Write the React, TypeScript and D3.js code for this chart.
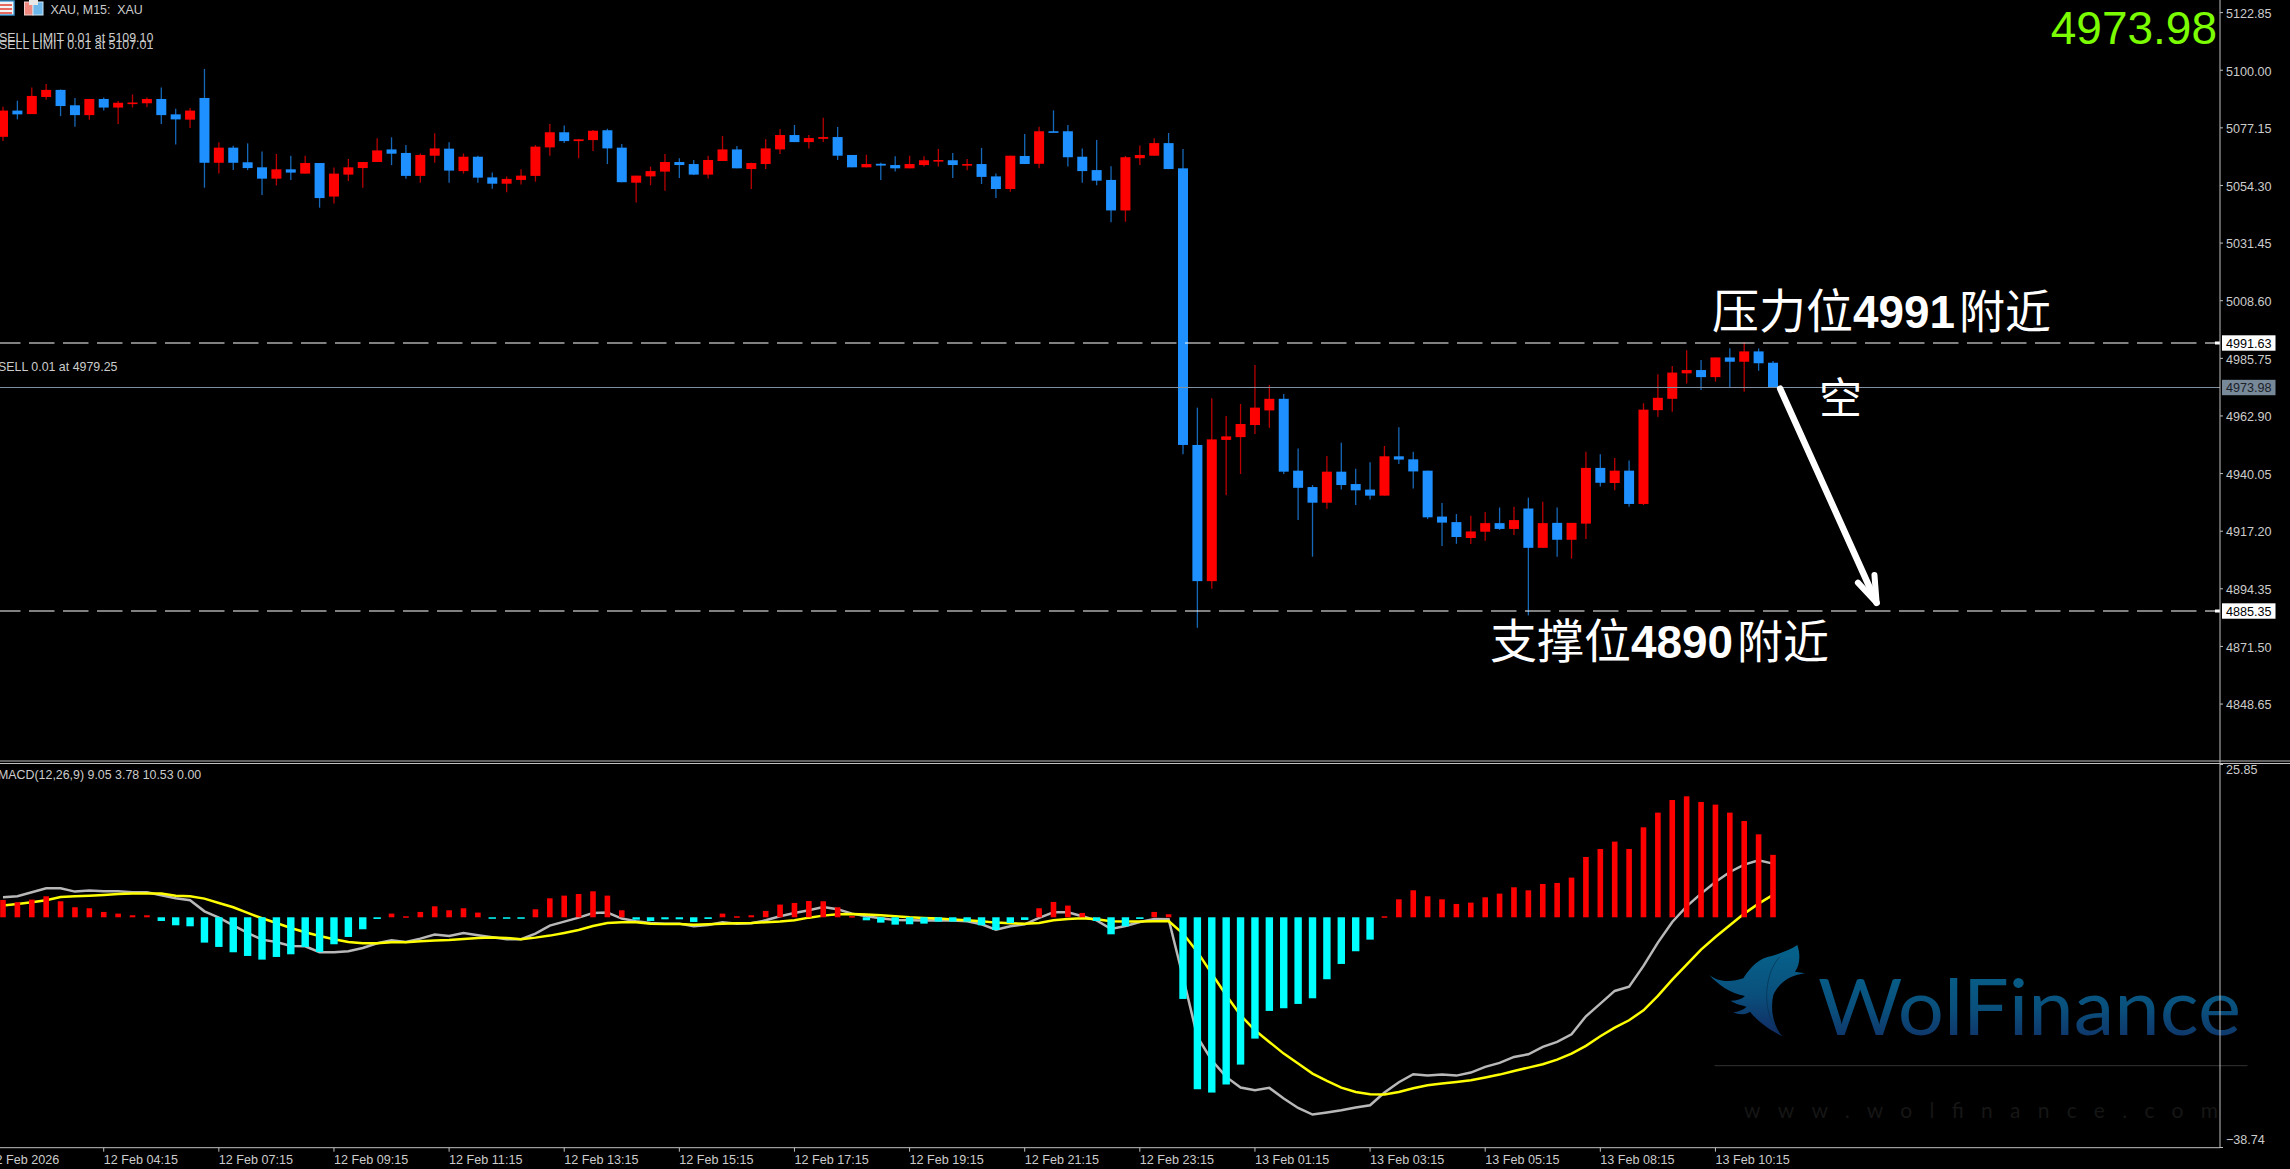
import { useEffect, useRef } from "react";
import * as d3 from "d3";

// XAU M15 candles
const highs = [
  5085.3, 5087.7, 5093.0, 5094.3, 5092.2, 5088.8, 5088.4, 5089.0, 5087.6, 5090.2,
  5089.0, 5093.0, 5084.5, 5084.8, 5100.3, 5071.2, 5069.9, 5070.8, 5067.6, 5066.6,
  5065.9, 5065.9, 5063.0, 5061.2, 5064.6, 5063.4, 5072.8, 5073.2, 5070.1, 5066.8,
  5074.8, 5071.2, 5066.8, 5065.9, 5059.2, 5057.7, 5060.5, 5070.1, 5078.5, 5077.9,
  5072.5, 5076.1, 5076.6, 5070.5, 5058.0, 5061.6, 5066.6, 5064.9, 5064.2, 5065.9,
  5073.7, 5069.8, 5063.1, 5072.4, 5076.4, 5078.1, 5074.1, 5081.0, 5077.3, 5066.2,
  5066.3, 5063.1, 5065.7, 5065.9, 5065.7, 5068.6, 5067.0, 5064.6, 5069.0, 5058.8,
  5065.9, 5074.5, 5077.4, 5083.9, 5078.1, 5068.8, 5072.1, 5061.7, 5065.8, 5070.0,
  5072.8, 5074.9, 5068.6, 4966.0, 4969.7, 4962.7, 4967.4, 4982.9, 4975.0, 4971.4,
  4949.8, 4935.3, 4946.8, 4952.1, 4941.8, 4944.3, 4950.8, 4958.2, 4948.5, 4941.0,
  4928.2, 4923.8, 4923.1, 4924.6, 4926.4, 4926.7, 4930.3, 4928.7, 4926.4, 4920.3,
  4948.5, 4947.5, 4946.0, 4945.0, 4967.7, 4979.2, 4982.5, 4988.8, 4984.9, 4985.9,
  4989.5, 4991.8, 4989.5, 4984.5,
];
const opens = [
  5073.4, 5083.8, 5082.4, 5089.2, 5092.0, 5085.9, 5082.0, 5088.4, 5085.0, 5086.7,
  5086.7, 5088.4, 5082.3, 5080.2, 5088.8, 5063.1, 5069.1, 5063.3, 5061.3, 5056.8,
  5060.5, 5058.8, 5063.0, 5049.7, 5058.4, 5061.0, 5063.4, 5068.4, 5067.0, 5057.9,
  5065.9, 5068.7, 5059.8, 5065.5, 5057.3, 5054.8, 5056.3, 5057.9, 5069.2, 5075.2,
  5071.7, 5072.1, 5076.0, 5069.1, 5055.2, 5057.7, 5059.6, 5063.4, 5062.6, 5058.4,
  5063.8, 5068.4, 5060.6, 5062.6, 5068.4, 5074.1, 5071.3, 5072.6, 5073.3, 5066.2,
  5061.3, 5062.7, 5062.2, 5060.9, 5062.2, 5063.8, 5064.1, 5062.0, 5062.6, 5057.7,
  5052.7, 5065.8, 5062.7, 5075.6, 5075.6, 5065.5, 5060.2, 5056.3, 5044.2, 5064.9,
  5065.9, 5070.9, 5060.9, 4951.2, 4897.2, 4953.2, 4954.3, 4959.1, 4964.9, 4969.5,
  4941.0, 4934.5, 4928.3, 4940.6, 4935.7, 4933.5, 4931.1, 4946.7, 4945.5, 4941.0,
  4922.8, 4920.6, 4914.3, 4916.8, 4920.2, 4917.9, 4926.0, 4910.4, 4920.3, 4913.6,
  4920.0, 4942.1, 4936.1, 4941.0, 4927.8, 4965.0, 4969.5, 4979.6, 4980.9, 4978.1,
  4985.9, 4984.2, 4988.3, 4983.8,
];
const closes = [
  5083.8, 5082.3, 5089.6, 5092.0, 5085.6, 5082.0, 5088.4, 5085.0, 5086.9, 5087.0,
  5088.4, 5082.0, 5080.3, 5083.8, 5063.1, 5069.1, 5063.1, 5061.0, 5056.8, 5060.5,
  5059.2, 5063.0, 5049.1, 5058.8, 5061.3, 5063.4, 5068.0, 5066.7, 5057.9, 5066.2,
  5068.8, 5060.0, 5065.5, 5057.2, 5054.8, 5056.7, 5058.0, 5069.5, 5075.2, 5071.7,
  5072.4, 5075.8, 5068.8, 5055.4, 5058.0, 5059.8, 5063.4, 5062.2, 5058.4, 5064.2,
  5068.4, 5060.9, 5063.0, 5068.8, 5074.1, 5071.3, 5072.9, 5073.3, 5065.9, 5061.3,
  5062.6, 5062.0, 5060.9, 5062.6, 5064.1, 5064.2, 5062.2, 5062.6, 5057.5, 5052.7,
  5065.9, 5062.6, 5075.6, 5075.2, 5065.3, 5059.8, 5056.0, 5044.2, 5065.3, 5066.2,
  5070.9, 5060.6, 4951.2, 4897.2, 4953.4, 4954.6, 4959.5, 4966.0, 4969.5, 4940.6,
  4934.2, 4928.3, 4940.6, 4935.3, 4933.2, 4931.1, 4946.7, 4945.4, 4940.7, 4922.5,
  4920.4, 4914.7, 4916.9, 4920.2, 4917.9, 4921.4, 4910.4, 4920.2, 4913.6, 4920.3,
  4942.1, 4936.2, 4941.0, 4927.8, 4965.2, 4969.9, 4979.9, 4980.9, 4978.1, 4985.9,
  4984.2, 4988.3, 4983.6, 4973.98,
];
const lows = [
  5071.7, 5080.3, 5082.4, 5088.1, 5081.6, 5077.4, 5080.2, 5083.8, 5078.5, 5085.0,
  5085.1, 5078.5, 5070.3, 5076.9, 5053.2, 5058.8, 5060.2, 5060.2, 5050.3, 5054.1,
  5056.3, 5058.8, 5045.3, 5047.0, 5055.9, 5053.2, 5063.4, 5062.2, 5056.8, 5055.2,
  5063.1, 5055.2, 5058.8, 5055.2, 5052.8, 5051.4, 5054.5, 5055.6, 5065.9, 5070.9,
  5064.9, 5067.8, 5062.6, 5055.4, 5047.3, 5054.2, 5052.0, 5057.1, 5058.3, 5056.9,
  5063.8, 5060.9, 5052.7, 5060.6, 5066.6, 5071.3, 5068.8, 5071.3, 5064.2, 5061.3,
  5061.3, 5056.3, 5059.6, 5060.9, 5061.6, 5061.6, 5057.1, 5060.1, 5054.7, 5049.1,
  5051.6, 5062.6, 5060.9, 5075.0, 5061.6, 5055.2, 5054.2, 5039.5, 5039.7, 5062.2,
  5065.9, 5060.6, 4947.5, 4878.7, 4894.2, 4931.3, 4939.7, 4955.5, 4958.0, 4939.7,
  4921.4, 4906.9, 4925.9, 4933.5, 4927.4, 4929.6, 4931.1, 4943.6, 4933.9, 4921.8,
  4911.1, 4912.0, 4911.9, 4913.2, 4917.5, 4915.5, 4883.6, 4910.4, 4906.9, 4906.1,
  4913.9, 4934.7, 4933.2, 4926.7, 4927.4, 4962.4, 4964.4, 4975.6, 4973.0, 4976.3,
  4974.0, 4972.3, 4980.6, 4974.0,
];

// MACD pane
const histogram = [
  2.92, 2.53, 2.98, 3.54, 2.7, 1.69, 1.52, 0.9, 0.62, 0.34,
  0.34, -0.62, -1.35, -1.52, -4.27, -5.0, -5.9, -6.52, -7.14, -6.69,
  -6.24, -5.0, -5.84, -4.55, -3.32, -2.02, -0.28, 0.62, 0.17, 0.9,
  1.85, 1.18, 1.52, 0.79, -0.11, -0.22, -0.11, 1.35, 3.2, 3.65,
  3.93, 4.38, 3.65, 1.18, -0.4, -0.62, -0.34, -0.34, -0.79, -0.28,
  0.62, 0.17, 0.34, 1.07, 2.14, 2.42, 2.75, 2.7, 1.69, 0.2,
  -0.51, -0.9, -1.24, -1.18, -1.07, -0.73, -0.73, -0.73, -1.35, -2.14,
  -0.96, -0.45, 1.52, 2.59, 1.97, 0.73, -0.62, -2.87, -1.52, -0.28,
  0.9, 0.51, -13.77, -29.0, -29.56, -28.2, -24.84, -20.46, -15.79, -15.34,
  -14.61, -13.66, -10.45, -7.87, -5.73, -3.77, 0.17, 3.03, 4.55, 3.54,
  3.03, 2.25, 2.47, 3.37, 3.99, 5.06, 4.55, 5.62, 5.79, 6.69,
  10.17, 11.52, 12.76, 11.52, 15.17, 17.65, 19.78, 20.4, 19.45, 19.0,
  17.65, 16.24, 13.99, 10.53,
];
const macdLine = [
  3.37, 3.54, 4.22, 4.89, 4.89, 4.33, 4.5, 4.38, 4.38, 4.22,
  4.22, 3.71, 3.2, 2.87, 1.01, -0.06, -1.35, -2.64, -3.77, -4.16,
  -4.83, -4.89, -5.9, -5.9, -5.73, -5.17, -4.38, -3.88, -4.16, -3.6,
  -2.92, -3.15, -2.64, -3.03, -3.37, -3.71, -3.71, -2.75, -1.4, -0.73,
  -0.06, 0.73, 0.79, -0.22, -0.67, -0.96, -1.07, -1.07, -1.52, -1.29,
  -0.84, -1.07, -1.01, -0.51, 0.17, 0.73, 1.18, 1.74, 1.35, 0.62,
  0.17, -0.17, -0.45, -0.51, -0.56, -0.51, -0.56, -0.67, -1.18, -2.08,
  -1.52, -1.18, -0.11, 0.84, 0.84, 0.17, -0.51, -1.97, -1.46, -0.79,
  -0.28, -0.34, -10.06, -20.18, -24.11, -26.92, -28.72, -29.17, -28.77, -30.57,
  -32.15, -33.27, -32.93, -32.54, -32.09, -31.7, -29.56, -27.82, -26.47, -26.7,
  -26.53, -26.7, -26.19, -25.23, -24.56, -23.55, -23.1, -21.86, -21.02, -19.73,
  -16.69, -14.56, -12.42, -11.69, -8.2, -4.27, -0.79, 1.85, 3.99, 5.96,
  7.64, 8.88, 9.61, 9.05,
];
const signalLine = [
  1.97, 2.25, 2.53, 2.87, 3.43, 3.54, 3.65, 3.77, 3.93, 3.99,
  3.99, 3.99, 3.65, 3.54, 3.15, 2.42, 1.69, 0.73, -0.17, -0.96,
  -1.8, -2.53, -3.15, -3.71, -4.16, -4.38, -4.38, -4.22, -4.22, -4.05,
  -3.93, -3.82, -3.65, -3.48, -3.43, -3.48, -3.71, -3.43, -3.09, -2.64,
  -2.14, -1.46, -0.96, -0.84, -0.84, -1.07, -1.12, -1.12, -1.24, -1.18,
  -1.07, -1.01, -0.96, -0.84, -0.73, -0.51, -0.06, 0.28, 0.51, 0.56,
  0.45, 0.34, 0.17, 0, -0.11, -0.22, -0.39, -0.51, -0.67, -0.9,
  -1.01, -1.07, -0.96, -0.51, -0.28, -0.17, -0.34, -0.67, -0.73, -0.73,
  -0.67, -0.62, -2.75, -5.84, -9.5, -13.15, -16.52, -19.05, -21.02, -22.99,
  -24.67, -26.36, -27.59, -28.72, -29.45, -29.84, -29.9, -29.45, -28.83, -28.32,
  -28.04, -27.76, -27.48, -27.03, -26.53, -25.91, -25.35, -24.78, -24.0, -22.99,
  -21.69, -20.06, -18.6, -17.37, -15.68, -13.26, -10.51, -7.98, -5.45, -3.32,
  -1.35, 0.62, 2.3, 3.78,
];

const priceTicks = [
  5122.85, 5100.0, 5077.15, 5054.3, 5031.45, 5008.6, 4985.75, 4962.9, 4940.05,
  4917.2, 4894.35, 4871.5, 4848.65,
];
const macdTicks = [25.85, -38.74];
const timeTicks = [
  "12 Feb 2026", "12 Feb 04:15", "12 Feb 07:15", "12 Feb 09:15", "12 Feb 11:15",
  "12 Feb 13:15", "12 Feb 15:15", "12 Feb 17:15", "12 Feb 19:15", "12 Feb 21:15",
  "12 Feb 23:15", "13 Feb 01:15", "13 Feb 03:15", "13 Feb 05:15", "13 Feb 08:15",
  "13 Feb 10:15",
];
const timeTickBars = [-1, 7, 15, 23, 31, 39, 47, 55, 63, 71, 79, 87, 95, 103, 111, 119];

const resistance = 4991.63;
const support = 4885.35;
const lastPrice = 4973.98;

const arrowShaft: [number, number][] = [[123.5, 4973.5], [130.2, 4888.6]];
const arrowHead: [number, number][] = [[128.9, 4896.6], [130.2, 4888.6], [130.05, 4899.6]];

const UI_FONT = "'Liberation Sans', Arial, sans-serif";
const CJK_FONT = "'Noto Sans CJK SC', sans-serif";
const AXIS_X = 2220;
const AXIS_COLOR = "#c0c0c0";
const TEXT_COLOR = "#cccccc";
const UP = "#ff0000";
const DOWN = "#1e90ff";

function drawChart(el: SVGSVGElement) {
  const svg = d3.select(el);
  svg.selectAll("*").remove();

  const x = d3.scaleLinear().domain([0, 123]).range([3, 1773]);
  const y = d3.scaleLinear().domain([4825.87, 5127.65]).range([761, 0]);
  const yMacd = d3.scaleLinear().domain([-38.74, 25.85]).range([1147, 764]);

  svg.append("rect").attr("width", 2290).attr("height", 1169).attr("fill", "#000");

  const defs = svg.append("defs");
  const grad = defs
    .append("linearGradient")
    .attr("id", "wf")
    .attr("x1", 0)
    .attr("y1", 0)
    .attr("x2", 0)
    .attr("y2", 1);
  grad.append("stop").attr("offset", "0%").attr("stop-color", "#05648c");
  grad.append("stop").attr("offset", "55%").attr("stop-color", "#0a4f7c");
  grad.append("stop").attr("offset", "100%").attr("stop-color", "#122a62");

  // watermark
  const mark = svg.append("g");
  const wing = mark.append("g").attr("transform", "translate(1700,930) scale(0.3333)");
  wing
    .append("path")
    .attr("fill", "url(#wf)")
    .attr(
      "d",
      "M28,135 C60,160 100,155 130,145 C150,112 180,82 215,78 C240,70 270,60 292,45 C302,75 300,105 285,125 L315,130 C270,135 235,160 220,195 C210,240 220,285 245,318 C200,295 170,270 150,245 C135,255 115,255 100,247 C115,245 130,240 140,230 C125,225 105,222 92,212 C110,212 125,208 135,198 C90,190 55,165 28,135 Z",
    );
  wing
    .append("path")
    .attr("fill", "none")
    .attr("stroke", "#06304f")
    .attr("stroke-width", 2)
    .attr("d", "M240,80 C215,105 200,150 200,200 C200,245 215,285 245,318");
  mark
    .append("text")
    .attr("x", 1818)
    .attr("y", 1035)
    .attr("textLength", 423)
    .attr("lengthAdjust", "spacingAndGlyphs")
    .attr("font-family", "Lato, sans-serif")
    .attr("font-size", 77)
    .attr("fill", "url(#wf)")
    .text("WolFinance");
  mark
    .append("line")
    .attr("x1", 1714.5)
    .attr("x2", 2247.5)
    .attr("y1", 1065.7)
    .attr("y2", 1065.7)
    .attr("stroke", "#333");
  mark
    .append("text")
    .attr("x", 1744)
    .attr("y", 1118)
    .attr("textLength", 474)
    .attr("font-family", "Lato, sans-serif")
    .attr("font-size", 21)
    .attr("fill", "#161616")
    .text("www.wolfinance.com");

  // candles
  const candles = d3.range(opens.length).map((i) => ({
    i,
    o: opens[i],
    h: highs[i],
    l: lows[i],
    c: closes[i],
  }));
  const color = (d: { o: number; c: number }) => (d.c >= d.o ? UP : DOWN);

  svg
    .append("g")
    .selectAll("line")
    .data(candles)
    .join("line")
    .attr("x1", (d) => x(d.i))
    .attr("x2", (d) => x(d.i))
    .attr("y1", (d) => y(d.h))
    .attr("y2", (d) => y(d.l))
    .attr("stroke", color)
    .attr("stroke-opacity", 0.72)
    .attr("stroke-width", 1.3);

  svg
    .append("g")
    .selectAll("rect")
    .data(candles)
    .join("rect")
    .attr("x", (d) => x(d.i) - 5)
    .attr("width", 10)
    .attr("y", (d) => y(Math.max(d.o, d.c)))
    .attr("height", (d) => Math.max(1.6, Math.abs(y(d.o) - y(d.c))))
    .attr("fill", color);

  // level lines
  [resistance, support].forEach((p) => {
    svg
      .append("line")
      .attr("x1", 0)
      .attr("x2", 2216)
      .attr("y1", y(p))
      .attr("y2", y(p))
      .attr("stroke", "#ffffff")
      .attr("stroke-width", 1.1)
      .attr("stroke-dasharray", "25.5 8.5")
      .attr("stroke-dashoffset", 5);
    svg
      .append("rect")
      .attr("x", 2215)
      .attr("y", y(p) - 1.5)
      .attr("width", 5)
      .attr("height", 3)
      .attr("fill", "#fff");
  });
  svg
    .append("line")
    .attr("x1", 0)
    .attr("x2", AXIS_X)
    .attr("y1", y(lastPrice))
    .attr("y2", y(lastPrice))
    .attr("stroke", "#8090a0")
    .attr("stroke-width", 1);

  // macd: lines sit under the bars
  const lineGen = d3
    .line<number>()
    .x((_, i) => x(i))
    .y((d) => yMacd(d));
  svg
    .append("path")
    .attr("d", lineGen(macdLine))
    .attr("fill", "none")
    .attr("stroke", "#b8b8b8")
    .attr("stroke-width", 2.5);
  svg
    .append("path")
    .attr("d", lineGen(signalLine))
    .attr("fill", "none")
    .attr("stroke", "#ffff00")
    .attr("stroke-width", 2.5);

  svg
    .append("g")
    .selectAll("rect")
    .data(histogram)
    .join("rect")
    .attr("x", (d, i) => x(i) - (d >= 0 ? 2.8 : 3.7))
    .attr("width", (d) => (d >= 0 ? 5.6 : 7.4))
    .attr("y", (d) => Math.min(yMacd(d), yMacd(0)))
    .attr("height", (d) => Math.max(1.5, Math.abs(yMacd(d) - yMacd(0))))
    .attr("fill", (d) => (d >= 0 ? "#ff0000" : "#00ffff"));

  // pane separator and axis frame
  [761, 763.5].forEach((py) => {
    svg
      .append("line")
      .attr("x1", 0)
      .attr("x2", 2290)
      .attr("y1", py)
      .attr("y2", py)
      .attr("stroke", AXIS_COLOR)
      .attr("stroke-width", 1);
  });
  svg
    .append("line")
    .attr("x1", AXIS_X)
    .attr("x2", AXIS_X)
    .attr("y1", 0)
    .attr("y2", 1148)
    .attr("stroke", AXIS_COLOR);

  const styleAxis = (g: d3.Selection<SVGGElement, unknown, null, undefined>) => {
    g.select(".domain").remove();
    g.selectAll(".tick line").attr("stroke", AXIS_COLOR);
    g.selectAll(".tick text")
      .attr("fill", TEXT_COLOR)
      .style("font-family", UI_FONT)
      .style("font-size", "12.6px");
  };

  svg
    .append("g")
    .attr("transform", `translate(${AXIS_X},0)`)
    .call(d3.axisRight(y).tickValues(priceTicks).tickFormat(d3.format(".2f")).tickSize(3).tickPadding(3))
    .call(styleAxis)
    .selectAll(".tick text")
    .attr("dy", "0.42em");

  svg
    .append("g")
    .attr("transform", `translate(${AXIS_X},0)`)
    .call(d3.axisRight(yMacd).tickValues(macdTicks).tickFormat(d3.format(".2f")).tickSize(3).tickPadding(3))
    .call(styleAxis)
    .selectAll<SVGTextElement, number>(".tick text")
    .attr("dy", (d) => (d > 0 ? "0.78em" : "-0.25em"));

  // time axis
  const xTime = d3.scaleOrdinal<string, number>().domain(timeTicks).range(timeTickBars.map((b) => x(b)));
  svg
    .append("line")
    .attr("x1", 0)
    .attr("x2", AXIS_X)
    .attr("y1", 1147.7)
    .attr("y2", 1147.7)
    .attr("stroke", AXIS_COLOR);
  const timeAxis = svg
    .append("g")
    .attr("transform", "translate(0,1147.7)")
    .call(
      d3
        .axisBottom(xTime as unknown as d3.AxisScale<string>)
        .tickSize(4)
        .tickPadding(3)
        .tickSizeOuter(0),
    )
    .call(styleAxis);
  timeAxis
    .selectAll<SVGGElement, string>(".tick")
    .attr("transform", (d) => `translate(${xTime(d)},0)`);
  timeAxis.selectAll(".tick text").attr("text-anchor", "start").attr("x", 0).attr("dx", 0);

  // value boxes
  const boxes = [
    { p: resistance, bg: "#ffffff", fg: "#000000" },
    { p: support, bg: "#ffffff", fg: "#000000" },
    { p: lastPrice, bg: "#778899", fg: "#1c2128" },
  ];
  boxes.forEach((b) => {
    svg
      .append("rect")
      .attr("x", 2222)
      .attr("y", y(b.p) - 7.7)
      .attr("width", 53.5)
      .attr("height", 15.4)
      .attr("fill", b.bg);
    svg
      .append("text")
      .attr("x", 2226)
      .attr("y", y(b.p) + 4.8)
      .attr("font-family", UI_FONT)
      .attr("font-size", 12.6)
      .attr("fill", b.fg)
      .text(d3.format(".2f")(b.p));
  });

  // small labels
  const labels: [string, number, number][] = [
    ["XAU, M15:  XAU", 50.5, 13.8],
    ["SELL LIMIT 0.01 at 5109.10", -1, 42],
    ["SELL LIMIT 0.01 at 5107.01", -1, 48.7],
    ["SELL 0.01 at 4979.25", -2, 370.5],
    ["MACD(12,26,9) 9.05 3.78 10.53 0.00", -2, 778.5],
  ];
  svg
    .append("g")
    .selectAll("text")
    .data(labels)
    .join("text")
    .attr("x", (d) => d[1])
    .attr("y", (d) => d[2])
    .attr("font-family", UI_FONT)
    .attr("font-size", 12.4)
    .attr("fill", TEXT_COLOR)
    .style("white-space", "pre")
    .text((d) => d[0]);

  // toolbar icons
  const icons = svg.append("g");
  icons.append("rect").attr("x", -2).attr("y", 1).attr("width", 16).attr("height", 14).attr("fill", "#f4f4f4").attr("stroke", "#3f9bd6").attr("stroke-width", 1.4);
  [4, 8, 12].forEach((py) => {
    icons.append("rect").attr("x", 0).attr("y", py).attr("width", 12).attr("height", 2).attr("fill", "#e86a5e");
  });
  icons.append("rect").attr("x", 24.5).attr("y", 2).attr("width", 8.5).attr("height", 13).attr("fill", "#f08a80").attr("stroke", "#f4d0cc");
  icons.append("rect").attr("x", 33).attr("y", 2).attr("width", 10).attr("height", 13).attr("fill", "#6db7ea").attr("stroke", "#cfe6f6");
  icons.append("rect").attr("x", 29).attr("y", 0).attr("width", 9).attr("height", 5).attr("fill", "#e8e8e8");

  // big price
  svg
    .append("text")
    .attr("x", 2217)
    .attr("y", 44)
    .attr("text-anchor", "end")
    .attr("font-family", UI_FONT)
    .attr("font-size", 46)
    .attr("fill", "#7cfc00")
    .text(d3.format(".2f")(lastPrice));

  // hand written notes
  const note = (
    start: number,
    baseline: number,
    head: string,
    digits: string,
    digitX: number,
    tail: string,
    tailX: number,
  ) => {
    const t = svg
      .append("text")
      .attr("y", baseline)
      .attr("fill", "#ffffff")
      .attr("font-family", CJK_FONT)
      .attr("font-size", 47);
    t.append("tspan").attr("x", start).text(head);
    t.append("tspan")
      .attr("x", digitX)
      .attr("font-family", UI_FONT)
      .attr("font-weight", 700)
      .attr("font-size", 47)
      .attr("textLength", 102)
      .attr("lengthAdjust", "spacingAndGlyphs")
      .text(digits);
    t.append("tspan").attr("x", tailX).attr("font-size", 46).text(tail);
  };
  note(1712, 328, "压力位", "4991", 1853, "附近", 1959);
  note(1490, 658, "支撑位", "4890", 1631, "附近", 1737);
  svg
    .append("text")
    .attr("x", 1819)
    .attr("y", 414)
    .attr("fill", "#ffffff")
    .attr("font-family", CJK_FONT)
    .attr("font-size", 43)
    .text("空");

  // arrow
  const arrowGen = d3
    .line<[number, number]>()
    .x((d) => x(d[0]))
    .y((d) => y(d[1]));
  svg
    .append("path")
    .attr("d", arrowGen(arrowShaft))
    .attr("fill", "none")
    .attr("stroke", "#fff")
    .attr("stroke-width", 6.5)
    .attr("stroke-linecap", "round");
  svg
    .append("path")
    .attr("d", arrowGen(arrowHead))
    .attr("fill", "none")
    .attr("stroke", "#fff")
    .attr("stroke-width", 6)
    .attr("stroke-linecap", "round")
    .attr("stroke-linejoin", "round");
}

export default function App() {
  const svgRef = useRef<SVGSVGElement>(null);
  useEffect(() => {
    if (svgRef.current) drawChart(svgRef.current);
  }, []);
  return (
    <svg
      ref={svgRef}
      width={2290}
      height={1169}
      style={{ position: "fixed", left: 0, top: 0, display: "block" }}
    />
  );
}
